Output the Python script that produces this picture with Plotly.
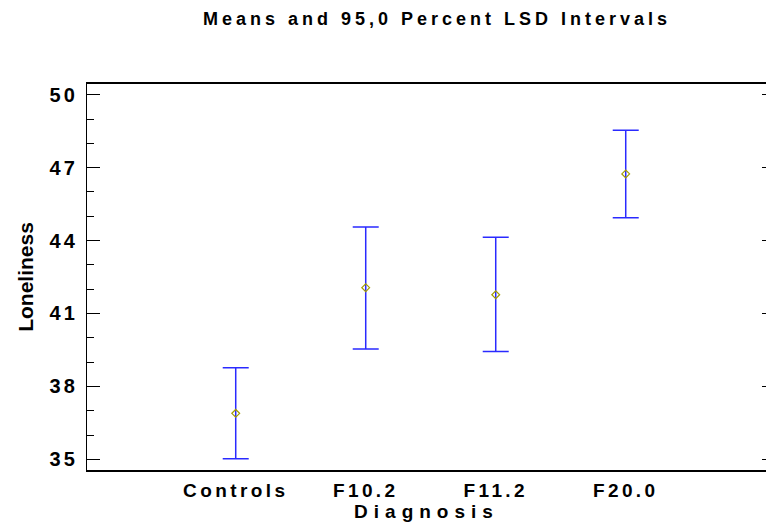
import plotly.graph_objects as go

# ---- data ----
categories = ["Controls", "F10.2", "F11.2", "F20.0"]
means = [36.89, 42.06, 41.77, 46.74]
upper = [38.77, 44.56, 44.14, 48.54]
lower = [35.02, 39.54, 39.43, 44.94]
y_tick_values = [35, 38, 41, 44, 47, 50]
y_tick_labels = ["35", "38", "41", "44", "47", "50"]

title_text = "Means and 95,0 Percent LSD Intervals"
x_title = "Diagnosis"
y_title = "Loneliness"

FONT = "Liberation Sans, Arial, sans-serif"


def spaced(s, px):
    return f'<span style="letter-spacing:{px}px">{s}</span>'


err_plus = [u - m for u, m in zip(upper, means)]
err_minus = [m - l for m, l in zip(means, lower)]

fig = go.Figure()
fig.add_trace(go.Scatter(
    x=categories, y=means, mode="markers",
    marker=dict(symbol="diamond-open", size=6, color="#a39c00",
                line=dict(width=1.2, color="#a39c00")),
    error_y=dict(type="data", symmetric=False, array=err_plus,
                 arrayminus=err_minus, color="#2a2aff",
                 thickness=1.5, width=13),
    showlegend=False, hoverinfo="skip",
))
# invisible trace on yaxis2 for the right-side ticks
fig.add_trace(go.Scatter(x=categories[:1], y=means[:1], yaxis="y2",
                         mode="markers", marker=dict(opacity=0),
                         showlegend=False, hoverinfo="skip"))

fig.update_layout(
    width=766, height=530,
    margin=dict(l=87, r=0, t=84, b=60, autoexpand=False),
    paper_bgcolor="white", plot_bgcolor="white",
    font=dict(family=FONT, color="black"),
    title=dict(text="<b>" + spaced(title_text, 4.0) + "</b>",
               font=dict(size=18, family=FONT, color="black"),
               xref="container", yref="container",
               x=437 / 766, xanchor="center", y=1 - 19 / 530, yanchor="middle"),
    xaxis=dict(
        type="category", automargin=False,
        range=[-1.144, 4.079],
        showline=True, linecolor="black", linewidth=1.6, mirror=True,
        showgrid=False, zeroline=False, ticks="",
        tickvals=categories,
        ticktext=["<b>" + spaced(c, 3.4) + "</b>" for c in categories],
        tickfont=dict(size=19, family=FONT, color="black"),
        ticklabelstandoff=2,
        title=dict(text="<b>" + spaced(x_title, 6) + "</b>",
                   font=dict(size=19, family=FONT, color="black"),
                   standoff=0),
    ),
    yaxis=dict(
        range=[34.56, 50.44], automargin=False,
        showline=True, linecolor="black", linewidth=1.3, mirror=False,
        showgrid=False, zeroline=False,
        tickvals=y_tick_values,
        ticktext=["<b>" + spaced(t, 3) + "</b>" for t in y_tick_labels],
        ticks="inside", ticklen=13, tickwidth=1.3, tickcolor="black",
        minor=dict(dtick=1, tick0=35, ticks="inside", ticklen=7,
                   tickwidth=1.2, tickcolor="black"),
        tickfont=dict(size=20, family=FONT, color="black"),
        ticklabelstandoff=4,
        title=dict(text="<b>" + y_title + "</b>",
                   font=dict(size=21, family=FONT, color="black"),
                   standoff=10),
    ),
    yaxis2=dict(
        range=[34.56, 50.44], overlaying="y", side="right", automargin=False,
        showline=False, showgrid=False, zeroline=False,
        tickvals=y_tick_values, showticklabels=False,
        ticks="inside", ticklen=4, tickwidth=1.3, tickcolor="black",
    ),
)

fig.write_html("out.html", config={"displayModeBar": False},
               post_script="document.body.style.margin='0';")
